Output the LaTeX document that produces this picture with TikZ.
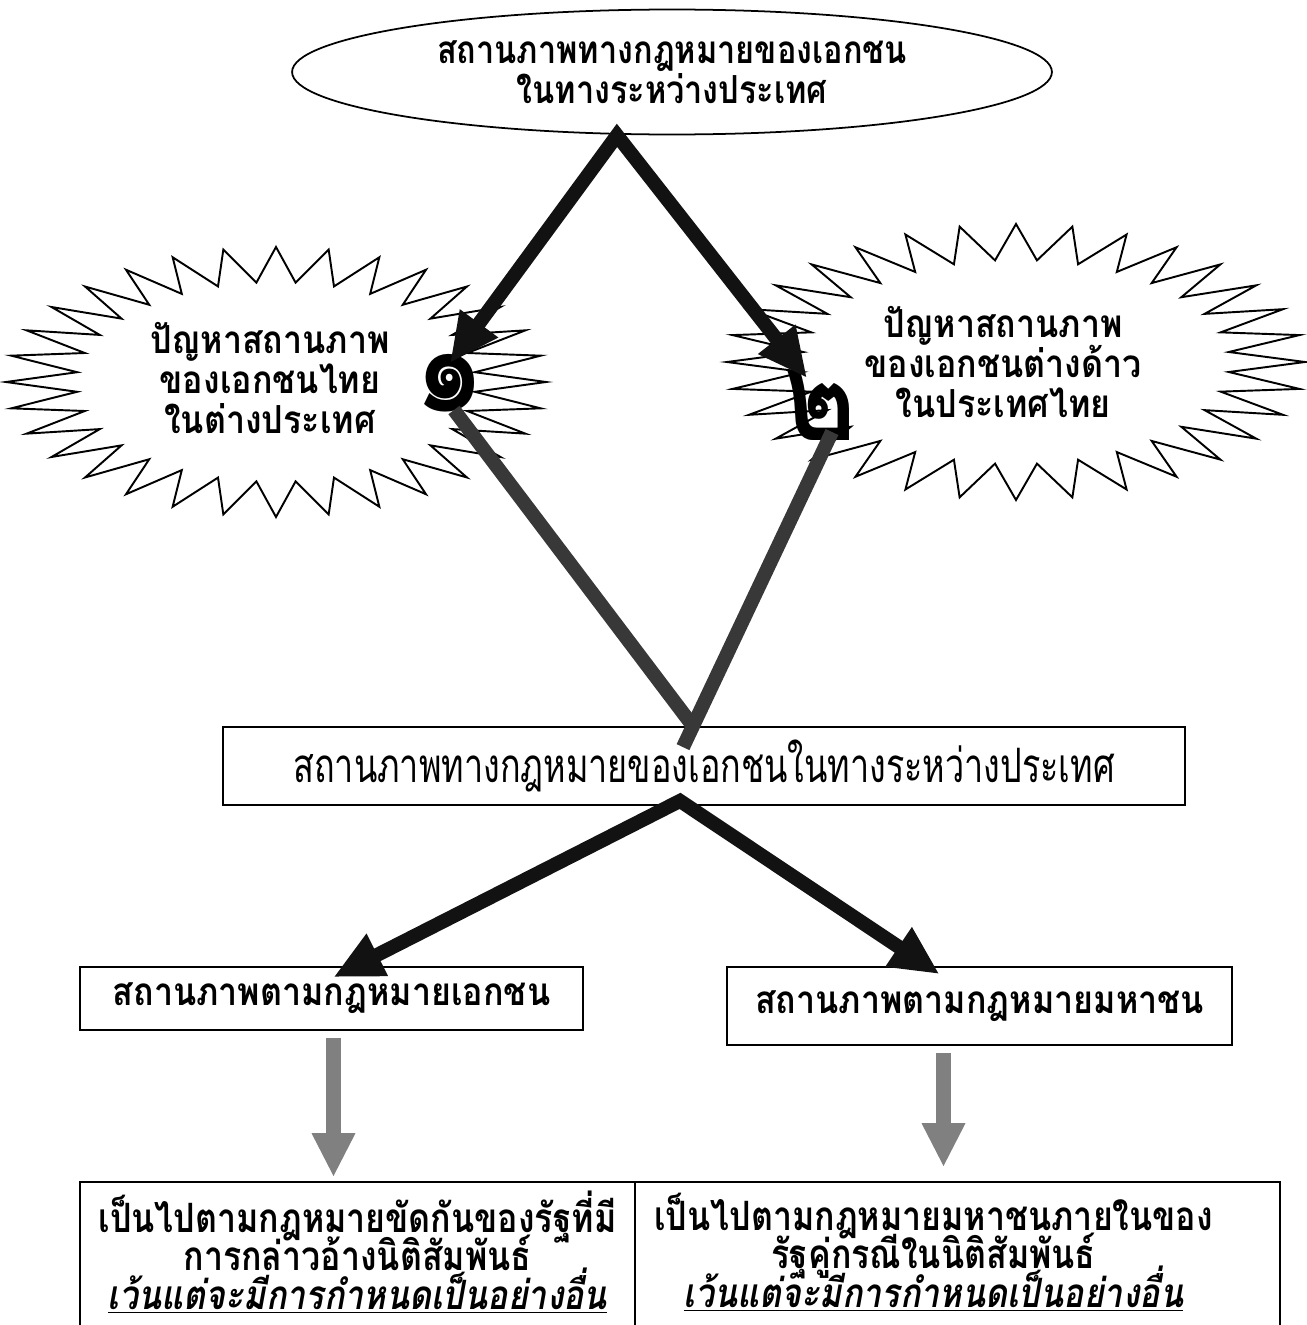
\documentclass[tikz,border=0pt]{standalone}
\usepackage{fontspec}
\usetikzlibrary{shapes.geometric, arrows.meta, positioning, calc}
\newfontfamily\thaifont[Script=Thai,FakeStretch=0.88]{Loma}
\newfontfamily\thaitight[Script=Thai,FakeStretch=0.84]{Loma}
\newfontfamily\thaicond[Script=Thai,FakeStretch=0.72]{Loma}
\newfontfamily\thairesult[Script=Thai,FakeStretch=0.84]{Loma}
\newcommand{\resfont}{\thairesult\bfseries\fontsize{23}{22}\selectfont\lineskiplimit=-50pt\relax}
\tikzset{
box/.style={draw, line width=1pt, align=center, inner sep=0pt}, % plain framed box
burst/.style={draw, line width=1.1pt, fill=white}, % outline of the spiky clouds
numeral/.style={inner sep=0pt, font=\thaifont\bfseries\fontsize{72}{72}\selectfont},
restext/.style={align=center, font=\resfont},
bigarrow/.style={line width=8pt, draw=black!93}, % black connectors
bigtip/.tip={Triangle[width=25pt, length=28pt]},
greyline/.style={line width=8pt, draw=black!78}, % dark grey V
greyarrow/.style={line width=8pt, draw=black!50, -{Triangle[width=23pt, length=25pt]}},
}
% spiky cloud: centre x, centre y, radius x, radius y
\newcommand{\spikeburst}[4]{%
  \draw[burst] ({#1+#3},{#2}) \foreach \a in {1,...,63}{
    -- ({#1+#3*(1-0.26*mod(\a,2))*cos(\a*5.625)},{#2+#4*(1-0.26*mod(\a,2))*sin(\a*5.625)})} -- cycle;}

\begin{document}
\begin{tikzpicture}[x=0.02cm, y=-0.02cm,
    every node/.style={font=\thaifont\bfseries\fontsize{22}{23}\selectfont}]
    \useasboundingbox (0,0) rectangle (1307,1325);
    \clip (0,0) rectangle (1307,1325);

    \node[box, ellipse, minimum width=15.2cm, minimum height=2.5cm,
        font=\thaitight\bfseries\fontsize{22}{23}\selectfont] (top) at (672,72)
        {สถานภาพทางกฎหมายของเอกชน\\ในทางระหว่างประเทศ};

    \spikeburst{276}{382}{270}{135}
    \spikeburst{1016}{362}{289}{138}
    \node[align=center] (thai) at (270,378) {ปัญหาสถานภาพ\\ของเอกชนไทย\\ในต่างประเทศ};
    \node[align=center] (alien) at (1003,362) {ปัญหาสถานภาพ\\ของเอกชนต่างด้าว\\ในประเทศไทย};
    \node[numeral] (n1) at (450,383) {๑};
    \node[numeral] (n2) at (820,405) {๒};

    \node[box, minimum width=19.24cm, minimum height=1.56cm,
        font=\thaicond\fontsize{27}{25}\selectfont] (mid) at (704,766)
        {สถานภาพทางกฎหมายของเอกชนในทางระหว่างประเทศ};

    \node[box, minimum width=10.06cm, minimum height=1.26cm] (priv) at (331.5,998.5)
        {สถานภาพตามกฎหมายเอกชน};
    \node[box, minimum width=10.1cm, minimum height=1.56cm] (pub) at (979.5,1006)
        {สถานภาพตามกฎหมายมหาชน};

    \node[box, minimum width=11.1cm, minimum height=3.04cm] (privres) at (357.5,1258) {};
    \node[box, minimum width=12.9cm, minimum height=3.04cm] (pubres) at (957.5,1258) {};
    \node[restext] (privtext) at ($(privres)+(0,-6)$)
        {เป็นไปตามกฎหมายขัดกันของรัฐที่มี\\การกล่าวอ้างนิติสัมพันธ์\\\underline{\itshape เว้นแต่จะมีการกำหนดเป็นอย่างอื่น}};
    \node[restext] (pubtext) at ($(pubres)+(-24,-6)$)
        {เป็นไปตามกฎหมายมหาชนภายในของ\\รัฐคู่กรณีในนิติสัมพันธ์\\\underline{\itshape เว้นแต่จะมีการกำหนดเป็นอย่างอื่น}};

    % connectors
    \draw[bigarrow, {bigtip}-{bigtip}] ($(n1)+(0,-20)$) -- ($(top.south)+(-55,0)$) -- ($(n2)+(-13,-27)$);
    \draw[greyline] ($(n1)+(4,27)$) -- ($(mid.north)+(-11,0)$);
    \draw[greyline] ($(n2)+(12,27)$) -- ($(mid.north)+(-21,21)$);
    \draw[bigarrow, {bigtip}-{bigtip}] ($(priv.north)+(2,11)$) -- ($(mid.south)+(-24,-5)$) -- ($(pub.north)+(-40,8)$);
    \draw[greyarrow] ($(priv.south)+(2,7)$) -- ($(privres.north)+(-24,-4)$);
    \draw[greyarrow] ($(pub.south)+(-36,7)$) -- ($(pubres.north)+(-14,-14)$);
\end{tikzpicture}
\end{document}
